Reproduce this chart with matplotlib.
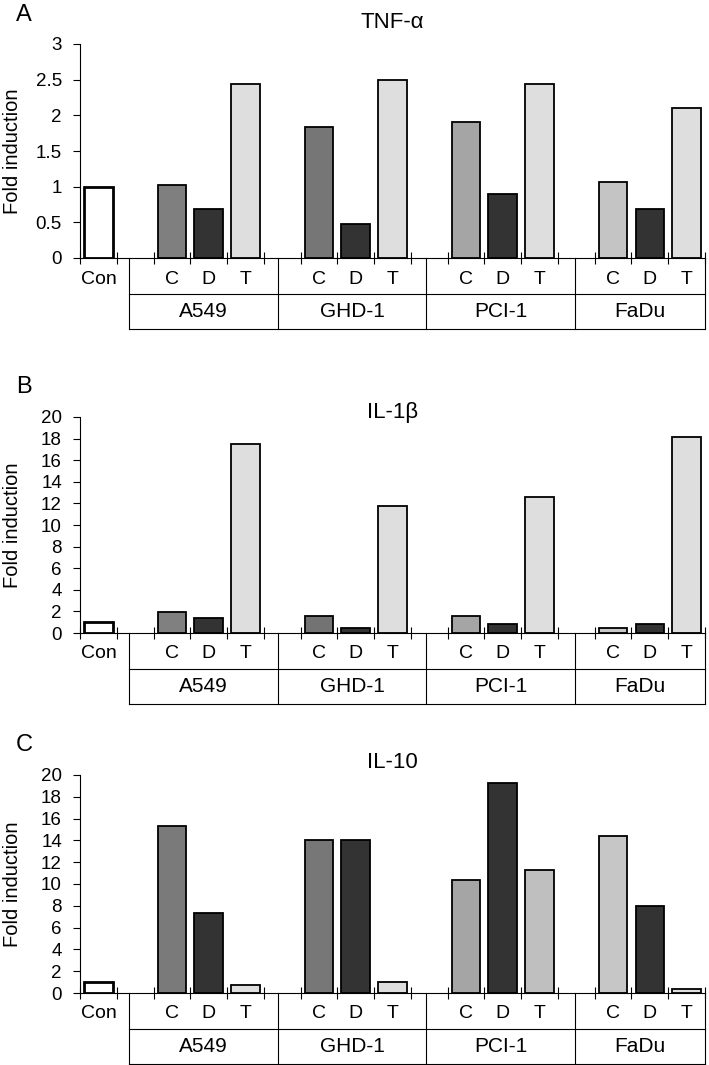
import numpy as np
import matplotlib.pyplot as plt
from matplotlib.transforms import blended_transform_factory

plt.rcParams['font.family'] = ['Liberation Sans', 'DejaVu Sans']

# data
groups = ['A549', 'GHD-1', 'PCI-1', 'FaDu']
treatments = ['C', 'D', 'T']

tnf_con = 1.0
tnf_vals = [[1.03, 0.69, 2.44],
            [1.83, 0.48, 2.49],
            [1.90, 0.90, 2.44],
            [1.07, 0.68, 2.10]]

il1b_con = 1.05
il1b_vals = [[1.90, 1.35, 17.5],
             [1.62, 0.50, 11.75],
             [1.62, 0.80, 12.6],
             [0.50, 0.80, 18.15]]

il10_con = 1.05
il10_vals = [[15.35, 7.35, 0.70],
             [14.03, 14.03, 1.04],
             [10.35, 19.30, 11.33],
             [14.36, 8.02, 0.34]]

panels = [
    dict(letter='A', title='TNF-\u03b1', con=tnf_con, vals=tnf_vals,
         ylim=3, yticks=[0, 0.5, 1, 1.5, 2, 2.5, 3],
         ylabels=['0', '0.5', '1', '1.5', '2', '2.5', '3'],
         colors=[['#7f7f7f', '#333333', '#dedede'],
                 ['#767676', '#333333', '#dedede'],
                 ['#a5a5a5', '#333333', '#dedede'],
                 ['#c4c4c4', '#333333', '#dedede']],
         rect=[80, 44, 705, 258], title_y=23, letter_y=15),
    dict(letter='B', title='IL-1\u03b2', con=il1b_con, vals=il1b_vals,
         ylim=20, yticks=list(range(0, 21, 2)),
         ylabels=[str(v) for v in range(0, 21, 2)],
         colors=[['#808080', '#333333', '#dedede'],
                 ['#737373', '#333333', '#dedede'],
                 ['#a5a5a5', '#333333', '#dedede'],
                 ['#c8c8c8', '#333333', '#dedede']],
         rect=[80, 417, 705, 633], title_y=412, letter_y=387),
    dict(letter='C', title='IL-10', con=il10_con, vals=il10_vals,
         ylim=20, yticks=list(range(0, 21, 2)),
         ylabels=[str(v) for v in range(0, 21, 2)],
         colors=[['#7a7a7a', '#333333', '#dedede'],
                 ['#777777', '#333333', '#dedede'],
                 ['#a5a5a5', '#333333', '#bfbfbf'],
                 ['#c6c6c6', '#333333', '#dedede']],
         rect=[80, 775, 705, 993], title_y=763, letter_y=745),
]

W, H = 709, 1065
fig = plt.figure(figsize=(W / 100, H / 100), dpi=100)

# group box boundaries in category units (Con at 0)
box_edges = [0.83, 4.89, 8.91, 12.97, 16.5]

for p in panels:
    x0, y0, x1, y1 = p['rect']
    ax = fig.add_axes([x0 / W, 1 - y1 / H, (x1 - x0) / W, (y1 - y0) / H])
    ax_h = y1 - y0

    # bars
    ax.bar(0, p['con'], width=0.78, color='white', edgecolor='black', linewidth=2.0)
    for g in range(len(groups)):
        for t in range(len(treatments)):
            ax.bar(2 + 4 * g + t, p['vals'][g][t], width=0.78,
                   color=p['colors'][g][t], edgecolor='black', linewidth=1.3)

    ax.set_xlim(-0.5, 16.5)
    ax.set_ylim(0, p['ylim'])
    ax.set_yticks(p['yticks'])
    ax.set_yticklabels(p['ylabels'], fontsize=13.5)
    ax.set_xticks(np.arange(-0.5, 16.6, 1.0))
    ax.set_xticklabels([])
    ax.tick_params(axis='y', direction='out', length=5, width=0.8, pad=8)
    ax.tick_params(axis='x', direction='inout', length=8, width=0.8)
    for s in ['top', 'right']:
        ax.spines[s].set_visible(False)
    for s in ['left', 'bottom']:
        ax.spines[s].set_linewidth(0.8)

    # category table below the axis
    tr = blended_transform_factory(ax.transData, ax.transAxes)
    sep = -36 / ax_h
    bot = -71 / ax_h
    lkw = dict(color='black', linewidth=0.8, transform=tr, clip_on=False)
    ax.plot([box_edges[0], box_edges[-1]], [sep, sep], **lkw)
    ax.plot([box_edges[0], box_edges[-1]], [bot, bot], **lkw)
    for e in box_edges:
        ax.plot([e, e], [0, bot], **lkw)

    ax.text(0, sep / 2 - 3 / ax_h, 'Con', transform=tr, ha='center', va='center', fontsize=14)
    for g, name in enumerate(groups):
        for t, tr_name in enumerate(treatments):
            ax.text(2 + 4 * g + t, sep / 2 - 3 / ax_h, tr_name, transform=tr,
                    ha='center', va='center', fontsize=14)
        ax.text((box_edges[g] + box_edges[g + 1]) / 2, (sep + bot) / 2, name,
                transform=tr, ha='center', va='center', fontsize=15)

    # title, panel letter and y label
    fig.text((x0 + x1) / 2 / W, 1 - p['title_y'] / H, p['title'],
             ha='center', va='center', fontsize=16)
    fig.text(24 / W, 1 - p['letter_y'] / H, p['letter'],
             ha='center', va='center', fontsize=17)
    fig.text(13 / W, 1 - (y0 + y1) / 2 / H, 'Fold induction', rotation=90,
             ha='center', va='center', fontsize=14.5)

fig.savefig('out.png', dpi=100)
